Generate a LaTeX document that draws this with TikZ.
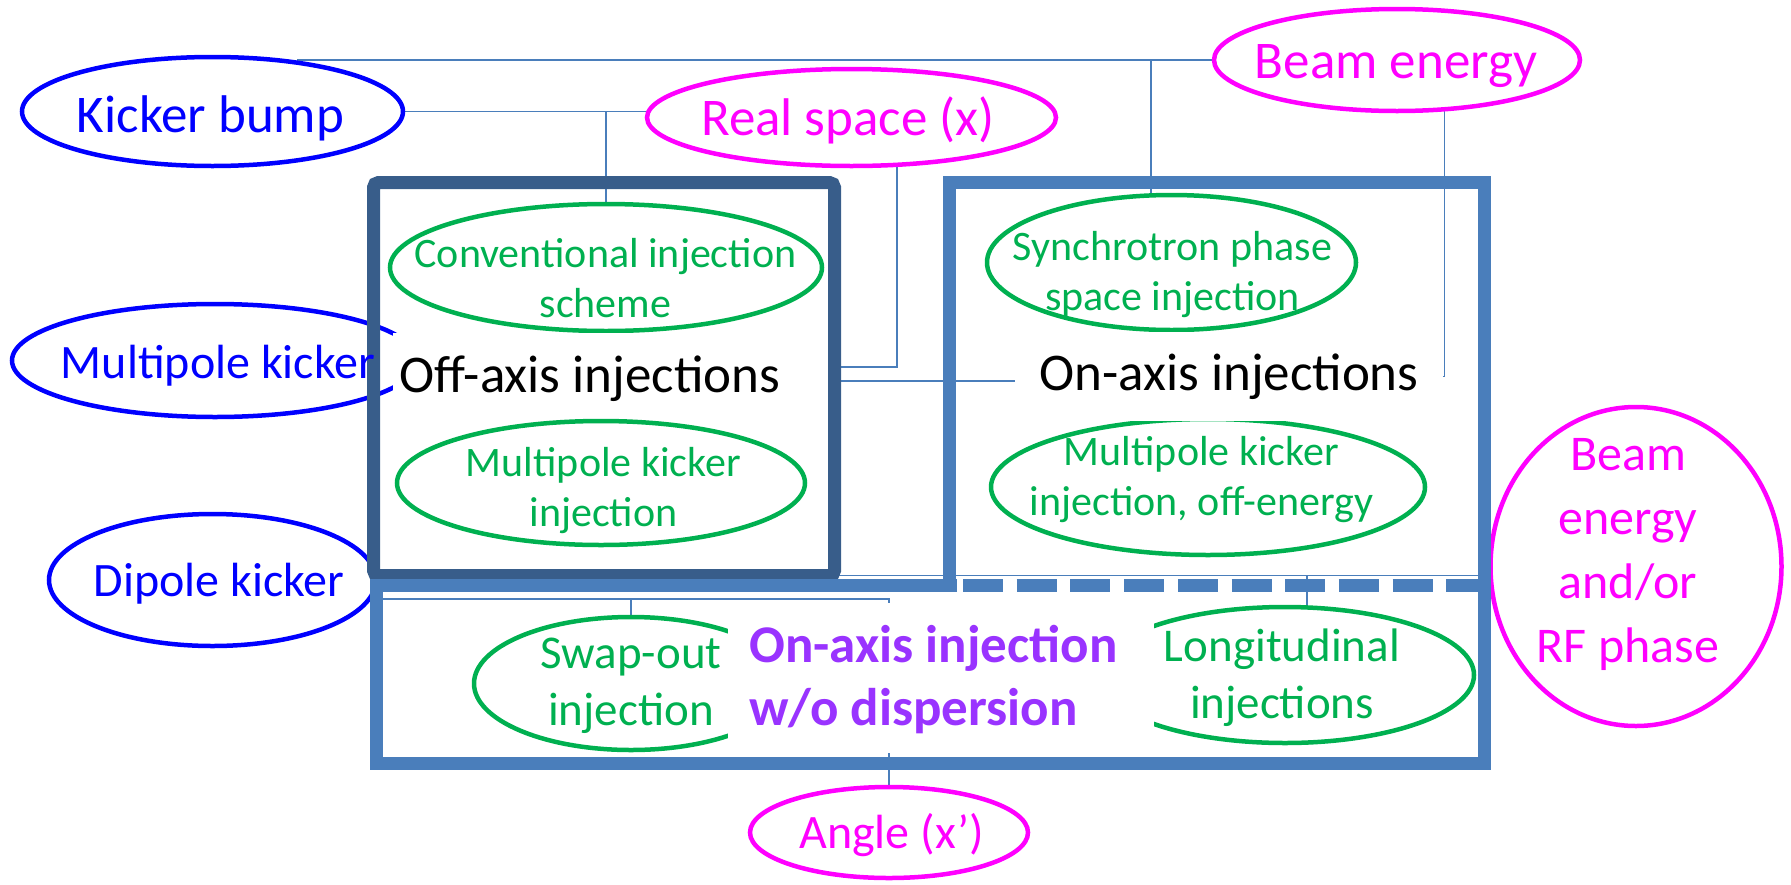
\documentclass[tikz,border=0pt]{standalone}
\usepackage{fontspec}
\setmainfont{Carlito}
\usetikzlibrary{shapes.geometric}
\pgfdeclarelayer{background}
\pgfsetlayers{background,main}

\definecolor{kickblue}{HTML}{0000FF}
\definecolor{parmag}{HTML}{FF00FF}
\definecolor{schgreen}{HTML}{00B050}
\definecolor{titlepurple}{HTML}{9933FF}
\definecolor{offframe}{HTML}{385D8A}
\definecolor{onframe}{HTML}{4A7EBB}
\definecolor{wirecol}{HTML}{4A7EBB}

\tikzset{
  oval/.style={ellipse, line width=4.5pt, inner sep=0pt, outer sep=0pt},
  kicker/.style={oval, draw=kickblue},
  param/.style={oval, draw=parmag},
  scheme/.style={oval, draw=schgreen},
  kickertext/.style={text=kickblue, font=\fontsize{48}{58}\selectfont, inner sep=0pt, anchor=base, align=center},
  paramtext/.style={text=parmag, font=\fontsize{53}{63}\selectfont, inner sep=0pt, anchor=base, align=center},
  schemetext/.style={text=schgreen, font=\fontsize{42}{50}\selectfont, inner sep=0pt, anchor=base, align=center},
  mask/.style={fill=white, inner sep=0pt, outer sep=0pt},
  boxtitle/.style={inner sep=0pt, font=\fontsize{53}{63}\selectfont},
  offwall/.style={draw=offframe, line width=13pt, rounded corners=5pt, inner sep=0pt, outer sep=0pt},
  onwall/.style={draw=onframe, line width=13pt},
  wire/.style={draw=wirecol, line width=1.5pt}
}

\begin{document}
\begin{tikzpicture}[x=1pt, y=-1pt]
  \useasboundingbox (0,0) rectangle (1791,884);

  % kicker types
  \node[kicker, minimum width=381pt, minimum height=109pt] (kb) at (212.5,111.5) {};
  \node[kicker, minimum width=406pt, minimum height=113pt] (mk) at (215,360.5) {};
  \node[kicker, minimum width=327pt, minimum height=132pt] (dk) at (212.5,580) {};

  % phase space parameters
  \node[param, minimum width=409pt, minimum height=97pt] (rs) at (851.5,117.5) {};
  \node[param, minimum width=366pt, minimum height=102pt] (be) at (1397,60) {};
  \node[param, minimum width=278pt, minimum height=91pt] (ang) at (889,832.5) {};
  \node[param, minimum width=291pt, minimum height=319pt] (bep) at (1636,566.5) {};

  % injection schemes
  \node[scheme, minimum width=432pt, minimum height=127pt] (conv) at (606,267.5) {};
  \node[scheme, minimum width=408pt, minimum height=124pt] (mki) at (601,483) {};
  \node[scheme, minimum width=369pt, minimum height=135pt] (sync) at (1171.5,262.5) {};
  \node[scheme, minimum width=434pt, minimum height=136pt] (moe) at (1208,487) {};
  \node[scheme, minimum width=314pt, minimum height=133pt] (swap) at (631,683.5) {};
  \node[scheme, minimum width=378pt, minimum height=136pt] (long) at (1285,675) {};

  % frames
  \node[offwall, minimum width=461pt, minimum height=393pt] (off) at (604,379) {};
  \draw[onwall] (949.5,591) -- (949.5,182.5) -- (1484.5,182.5) -- (1484.5,591);
  \draw[onwall] (957,585) -- (376.5,585) -- (376.5,763) -- (1484.5,763) -- (1484.5,585);
  \draw[onwall, dash pattern=on 40pt off 13.7pt] (963,585) -- (1478,585);

  % frame titles
  \node[mask, minimum width=427pt, minimum height=85pt] (offmask) at (606.5,375.5) {};
  \node[boxtitle, anchor=base west] (offt) at (399,392) {Off-axis injections};
  \node[mask, boxtitle, minimum width=428pt, minimum height=89pt] (ont) at (1229,376.5) {On-axis injections};
  \node[mask, minimum width=426pt, minimum height=150pt] (purmask) at (941,678) {};
  \node[boxtitle, text=titlepurple, font=\fontsize{53}{63}\selectfont\bfseries, align=left, anchor=base west] (purt) at (749,725) {On-axis injection\\w/o dispersion};

  % labels
  \node[kickertext, font=\fontsize{53}{63}\selectfont] (kbt) at (210.5,132) {Kicker bump};
  \node[kickertext] (mkt) at (218,378) {Multipole kicker};
  \node[kickertext] (dkt) at (219,596) {Dipole kicker};
  \node[paramtext] (rst) at (848,135) {Real space (x)};
  \node[paramtext] (bet) at (1396,78) {Beam energy};
  \node[paramtext, font=\fontsize{48}{58}\selectfont] (angt) at (891.5,848) {Angle (x’)};
  \node[paramtext, font=\fontsize{50}{64}\selectfont] (bept) at (1628,662) {Beam\\energy\\and/or\\RF phase};
  \node[schemetext] (convt) at (605.5,317) {Conventional injection\\scheme};
  \node[schemetext] (mkit) at (603.5,526) {Multipole kicker\\injection};
  \node[schemetext] (synct) at (1172.5,310) {Synchrotron phase\\space injection};
  \node[schemetext] (moet) at (1201.5,515) {Multipole kicker\\injection, off-energy};
  \node[schemetext, font=\fontsize{47}{57}\selectfont] (swapt) at (631,725) {Swap-out\\injection};
  \node[schemetext, font=\fontsize{47}{57}\selectfont] (longt) at (1282,718) {Longitudinal\\injections};

  % connectors
  \begin{pgfonlayer}{background}
    \draw[wire] (be.west) -- (be.west -| kb.30);
    \draw[wire] (sync.107) |- (be.west);
    \draw[wire] (be.-46) |- (ont.east);
    \draw[wire] (kb.east) -- (kb.east -| rs.west);
    \draw[wire] (conv.north) |- (kb.east);
    \draw[wire] (rs.-46) |- ([yshift=12pt]off.east);
    \draw[wire] ([yshift=-2pt]off.east) -- ([yshift=-2pt]off.east -| ont.west);
    \draw[wire] (dk.-7) -| (swap.north);
    \draw[wire] (dk.-7) -| (ang.north);
    \draw[wire] (off.south east) -- (off.south east -| bep.west);
    \draw[wire] (long.72) -- (long.72 |- off.south east);
  \end{pgfonlayer}
\end{tikzpicture}
\end{document}
